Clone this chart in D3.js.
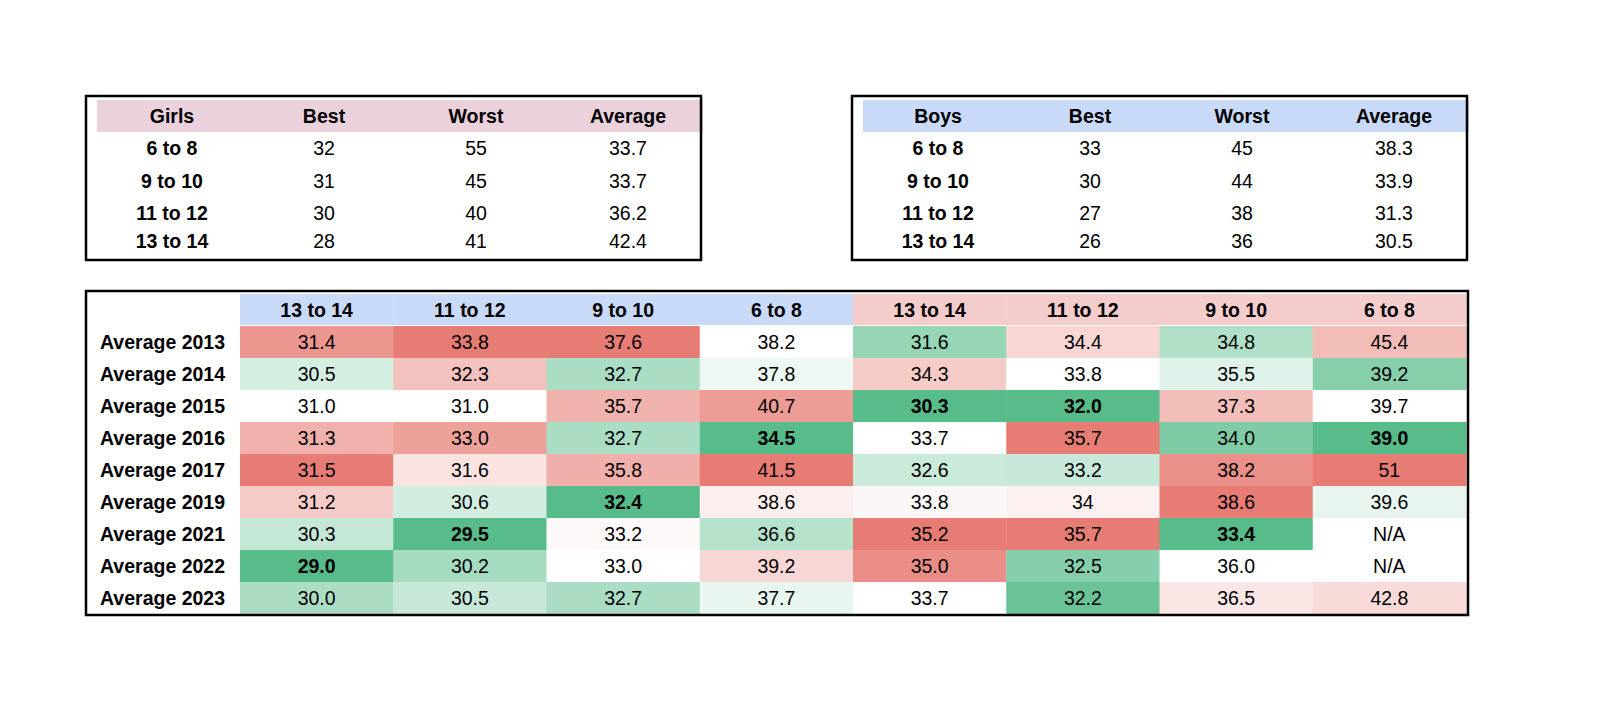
<!DOCTYPE html><html><head><meta charset="utf-8"><script src="https://cdn.jsdelivr.net/npm/d3@7"></script>
<style>body{margin:0;background:#fff}text{font-family:"Liberation Sans",Arial,sans-serif;font-size:19.5px;fill:#000}</style></head><body><svg id="c" width="1600" height="713"></svg><script>
const summaryHeader=["Best","Worst","Average"];
const ageGroups=["6 to 8","9 to 10","11 to 12","13 to 14"];
const girlsBest=[32,31,30,28], girlsWorst=[55,45,40,41], girlsAvg=["33.7","33.7","36.2","42.4"];
const boysBest=[33,30,27,26], boysWorst=[45,44,38,36], boysAvg=["38.3","33.9","31.3","30.5"];
const gridCols=["13 to 14","11 to 12","9 to 10","6 to 8","13 to 14","11 to 12","9 to 10","6 to 8"];
const gridRows=["Average 2013","Average 2014","Average 2015","Average 2016","Average 2017","Average 2019","Average 2021","Average 2022","Average 2023"];
const gridValues=[
["31.4","33.8","37.6","38.2","31.6","34.4","34.8","45.4"],
["30.5","32.3","32.7","37.8","34.3","33.8","35.5","39.2"],
["31.0","31.0","35.7","40.7","30.3","32.0","37.3","39.7"],
["31.3","33.0","32.7","34.5","33.7","35.7","34.0","39.0"],
["31.5","31.6","35.8","41.5","32.6","33.2","38.2","51"],
["31.2","30.6","32.4","38.6","33.8","34","38.6","39.6"],
["30.3","29.5","33.2","36.6","35.2","35.7","33.4","N/A"],
["29.0","30.2","33.0","39.2","35.0","32.5","36.0","N/A"],
["30.0","30.5","32.7","37.7","33.7","32.2","36.5","42.8"]];
const svg=d3.select("#c");
function summary(x0,title,hdrColor,best,worst,avg){
  const cx=d3.scaleBand().domain([title,...summaryHeader]).range([x0+10,x0+10+608]);
  svg.append("rect").attr("x",x0+11).attr("y",100).attr("width",606).attr("height",32).attr("fill",hdrColor);
  [title,...summaryHeader].forEach(h=>svg.append("text").attr("x",cx(h)+cx.bandwidth()/2).attr("y",123).attr("text-anchor","middle").attr("font-weight","bold").text(h));
  const ys=[148,181,213,241];
  ageGroups.forEach((g,i)=>{
    const y=ys[i]+7;
    [[title,g,true],["Best",best[i]],["Worst",worst[i]],["Average",avg[i]]].forEach(([c,v,b])=>
      svg.append("text").attr("x",cx(c)+cx.bandwidth()/2).attr("y",y).attr("text-anchor","middle").attr("font-weight",b?"bold":"normal").text(v));
  });
  svg.append("rect").attr("x",x0).attr("y",96).attr("width",615).attr("height",164).attr("fill","none").attr("stroke","#000").attr("stroke-width",2.5);
}
summary(86,"Girls","#ead1dc",girlsBest,girlsWorst,girlsAvg);
summary(852,"Boys","#c9daf8",boysBest,boysWorst,boysAvg);
const gx=d3.scaleBand().domain(d3.range(8)).range([240,1466]);
const gy=d3.scaleBand().domain(gridRows).range([326,614]);
gridCols.forEach((c,j)=>{
  svg.append("rect").attr("x",gx(j)).attr("y",294).attr("width",gx.bandwidth()+0.5).attr("height",31).attr("fill",j<4?"#c9daf8":"#f4cccc");
  svg.append("text").attr("x",gx(j)+gx.bandwidth()/2).attr("y",317).attr("text-anchor","middle").attr("font-weight","bold").text(c);
  const vals=gridValues.map(r=>+r[j]).filter(v=>!isNaN(v));
  const mn=d3.min(vals),mx=d3.max(vals),md=d3.median(vals);
  const col=d3.scaleLinear().domain([mn,md,mx]).range(["#57bb8a","#ffffff","#e67c73"]);
  gridRows.forEach((r,i)=>{
    const s=gridValues[i][j],v=+s;
    const f=isNaN(v)?"#fff":col(v);
    svg.append("rect").attr("x",gx(j)).attr("y",gy(r)).attr("width",gx.bandwidth()+0.5).attr("height",gy.bandwidth()+0.5).attr("fill",f);
    svg.append("text").attr("x",gx(j)+gx.bandwidth()/2).attr("y",gy(r)+gy.bandwidth()/2+7).attr("text-anchor","middle").attr("font-weight",v===mn?"bold":"normal").text(s);
  });
});
gridRows.forEach(r=>svg.append("text").attr("x",100).attr("y",gy(r)+gy.bandwidth()/2+7).attr("font-weight","bold").text(r));
svg.append("rect").attr("x",86).attr("y",291).attr("width",1382).attr("height",324).attr("fill","none").attr("stroke","#000").attr("stroke-width",2.5);
</script></body></html>
